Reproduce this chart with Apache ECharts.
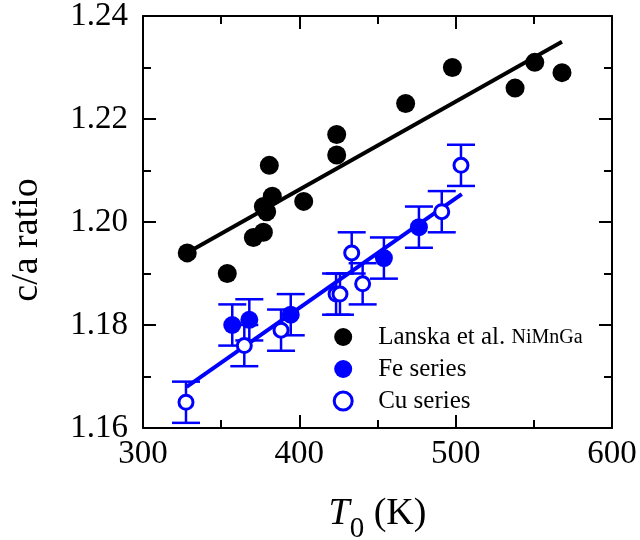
<!DOCTYPE html>
<html>
<head>
<meta charset="utf-8">
<script src="https://cdn.jsdelivr.net/npm/echarts@6/dist/echarts.min.js"></script>
<style>
html,body{margin:0;padding:0;background:#fff;}
#chart{width:640px;height:540px;}
</style>
</head>
<body>
<div id="chart"></div>
<script>
// Data
var lanskaT = [328.3, 353.9, 370.6, 377.0, 377.0, 379.1, 382.7, 380.8, 402.8, 423.9, 423.9, 468.0, 497.9, 538.0, 550.6, 568.0];
var lanskaY = [1.194, 1.190, 1.197, 1.198, 1.203, 1.202, 1.205, 1.211, 1.204, 1.213, 1.217, 1.223, 1.230, 1.226, 1.231, 1.229];

var feT = [357.1, 368.0, 394.5, 454.1, 476.5];
var feY = [1.180, 1.181, 1.182, 1.193, 1.199];
var feErr = [0.004, 0.004, 0.004, 0.004, 0.004];

var cuT = [327.5, 364.8, 388.3, 423.5, 426.0, 433.5, 440.5, 491.1, 503.4];
var cuY = [1.165, 1.176, 1.179, 1.186, 1.186, 1.194, 1.188, 1.202, 1.211];
var cuErr = [0.004, 0.004, 0.004, 0.004, 0.004, 0.004, 0.004, 0.004, 0.004];

var lanskaFitT = [328, 568];
var lanskaFitY = [1.194, 1.235];
var blueFitT = [327.9, 503.9];
var blueFitY = [1.168, 1.2054];

var xTicks = [300, 400, 500, 600];
var yTicks = [1.16, 1.18, 1.20, 1.22, 1.24];

function zip(a, b) { return a.map(function (v, i) { return [v, b[i]]; }); }
function zip3(a, b, c) { return a.map(function (v, i) { return [v, b[i], c[i]]; }); }

var FONT = 'Liberation Serif';
var BLUE = '#0000ff';

function errRender(params, api) {
  var x = api.value(0), y = api.value(1), e = api.value(2);
  var top = api.coord([x, y + e]);
  var bot = api.coord([x, y - e]);
  var hw = 14;
  var st = { stroke: BLUE, lineWidth: 2.5 };
  return {
    type: 'group',
    children: [
      { type: 'line', shape: { x1: top[0], y1: top[1], x2: bot[0], y2: bot[1] }, style: st },
      { type: 'line', shape: { x1: top[0] - hw, y1: top[1], x2: top[0] + hw, y2: top[1] }, style: st },
      { type: 'line', shape: { x1: bot[0] - hw, y1: bot[1], x2: bot[0] + hw, y2: bot[1] }, style: st }
    ]
  };
}

function makeX(pos, showLabel) {
  return {
    type: 'value', position: pos, min: 300, max: 600, interval: 100,
    axisLine: { show: true, onZero: false, lineStyle: { color: '#000', width: 2 } },
    axisTick: { show: true, inside: true, length: 13, lineStyle: { color: '#000', width: 2 } },
    minorTick: { show: true, splitNumber: 2, length: 8, lineStyle: { color: '#000', width: 2 } },
    splitLine: { show: false }, minorSplitLine: { show: false },
    axisLabel: { show: showLabel, fontFamily: FONT, fontSize: 33, color: '#000', margin: 10,
      formatter: function (v) { return xTicks.indexOf(v) >= 0 ? String(v) : ''; } }
  };
}
function makeY(pos, showLabel) {
  return {
    type: 'value', position: pos, min: 1.16, max: 1.24, interval: 0.02,
    axisLine: { show: true, onZero: false, lineStyle: { color: '#000', width: 2 } },
    axisTick: { show: true, inside: true, length: 13, lineStyle: { color: '#000', width: 2 } },
    minorTick: { show: true, splitNumber: 2, length: 8, lineStyle: { color: '#000', width: 2 } },
    splitLine: { show: false }, minorSplitLine: { show: false },
    axisLabel: { show: showLabel, fontFamily: FONT, fontSize: 33, color: '#000', margin: 15,
      formatter: function (v) { return v.toFixed(2); } }
  };
}

var xMain = makeX('bottom', true);
xMain.name = '{i|T}{s|0}{n| (K)}';
xMain.nameLocation = 'middle';
xMain.nameGap = 56;
xMain.nameTextStyle = {
  rich: {
    i: { fontFamily: FONT, fontSize: 38, fontStyle: 'italic', color: '#000', lineHeight: 60 },
    s: { fontFamily: FONT, fontSize: 29, color: '#000', lineHeight: 29, verticalAlign: 'bottom' },
    n: { fontFamily: FONT, fontSize: 38, color: '#000', lineHeight: 60 }
  }
};
var yMain = makeY('left', true);
yMain.name = 'c/a ratio';
yMain.nameLocation = 'middle';
yMain.nameGap = 97;
yMain.nameTextStyle = { fontFamily: FONT, fontSize: 38, color: '#000', padding: [0, 36, 0, 0] };

var option = {
  animation: false,
  backgroundColor: '#fff',
  grid: { left: 143, right: 28, top: 16, bottom: 112, containLabel: false, outerBoundsMode: 'none' },
  xAxis: [xMain, makeX('top', false)],
  yAxis: [yMain, makeY('right', false)],
  legend: {
    orient: 'vertical', left: 327.7, top: 319.5, padding: 5,
    itemWidth: 18, itemHeight: 18, itemGap: 7,
    data: [
      { name: 'Lanska' },
      { name: 'Fe series' },
      { name: 'Cu series', itemStyle: { borderWidth: 3, borderColor: BLUE, color: '#fff' } }
    ],
    formatter: function (n) {
      if (n === 'Lanska') return '{a|Lanska et al. }{b|NiMnGa}';
      return '{a|' + n + '}';
    },
    textStyle: {
      color: '#000',
      rich: {
        a: { fontFamily: FONT, fontSize: 25, lineHeight: 25, color: '#000', verticalAlign: 'bottom', padding: [0, 0, 0, 21] },
        b: { fontFamily: FONT, fontSize: 20, lineHeight: 20, color: '#000', verticalAlign: 'bottom', padding: [0, 0, 1.5, 0] }
      }
    }
  },
  series: [
    { type: 'custom', name: 'feErr', renderItem: errRender, data: zip3(feT, feY, feErr), z: 1, encode: { x: 0, y: 1 } },
    { type: 'custom', name: 'cuErr', renderItem: errRender, data: zip3(cuT, cuY, cuErr), z: 1, encode: { x: 0, y: 1 } },
    { type: 'line', name: 'lanskaFit', data: zip(lanskaFitT, lanskaFitY), symbol: 'none', z: 2,
      lineStyle: { color: '#000', width: 4 } },
    { type: 'line', name: 'blueFit', data: zip(blueFitT, blueFitY), symbol: 'none', z: 2,
      lineStyle: { color: BLUE, width: 4 } },
    { type: 'scatter', name: 'Lanska', data: zip(lanskaT, lanskaY), symbol: 'circle', symbolSize: 19, z: 3,
      itemStyle: { color: '#000', opacity: 1 } },
    { type: 'scatter', name: 'Fe series', data: zip(feT, feY), symbol: 'circle', symbolSize: 18, z: 3,
      itemStyle: { color: BLUE, opacity: 1 } },
    { type: 'scatter', name: 'Cu series', data: zip(cuT, cuY), symbol: 'circle', symbolSize: 14, z: 3,
      itemStyle: { color: '#fff', borderColor: BLUE, borderWidth: 3, opacity: 1 } }
  ]
};

var chart = echarts.init(document.getElementById('chart'), null, { renderer: 'canvas' });
chart.setOption(option);
</script>
</body>
</html>
